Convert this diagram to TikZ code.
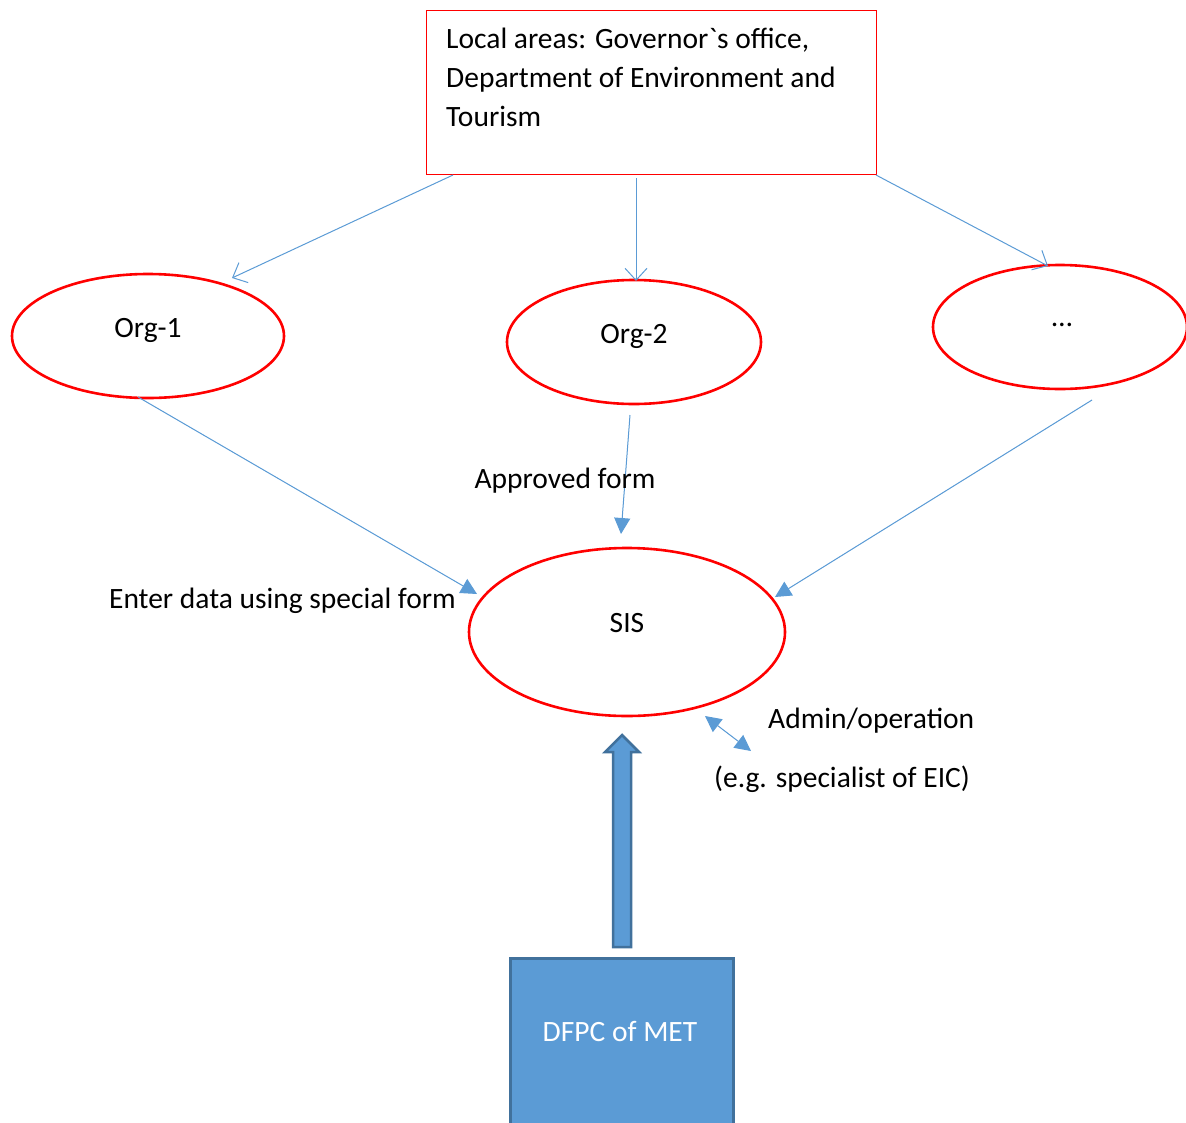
\documentclass[tikz,border=0pt]{standalone}
\usepackage{fontspec}
\setmainfont{Carlito}[Ligatures=TeXOff]
\usetikzlibrary{shapes.geometric,arrows.meta}
\definecolor{offblue}{HTML}{5B9BD5}
\definecolor{darkblue}{HTML}{41719C}
\definecolor{redline}{HTML}{FF0000}
\begin{document}
\begin{tikzpicture}[x=1pt,y=-1pt,
  every node/.style={font=\fontsize{29.5}{39}\selectfont},
  orgell/.style={draw=redline,line width=2.6pt,ellipse,inner sep=0pt},
  conn/.style={draw=offblue,line width=1pt},
  openarr/.style={conn,-{Straight Barb[length=12pt,width=22pt,line width=1pt]}},
  fillarr/.style={conn,-{Triangle[length=16pt,width=16pt]}},
  bothfill/.style={conn,{Triangle[length=16pt,width=16pt]}-{Triangle[length=16pt,width=16pt]}},
  lbl/.style={inner sep=0pt,anchor=base}
]
\path[use as bounding box] (0,0) rectangle (1186,1122);

% top box
\node[draw=redline,line width=1.3pt,minimum width=450pt,minimum height=164pt,anchor=north west,inner sep=0pt] (top) at (426,10) {};
\node[lbl,anchor=base west] (t1) at (446,48) {Local areas: Governor`s office,};
\node[lbl,anchor=base west] (t2) at (446,87) {Department of Environment and};
\node[lbl,anchor=base west] (t3) at (446,126) {Tourism};

% ellipses
\node[orgell,minimum width=272pt,minimum height=124pt] (org1) at (148,336) {};
\node[lbl] (org1t) at (148,337) {Org-1};
\node[orgell,minimum width=254pt,minimum height=124pt] (org2) at (634,342) {};
\node[lbl] (org2t) at (634,343) {Org-2};
\node[orgell,minimum width=254pt,minimum height=124pt] (org3) at (1060,327) {};
\node[lbl] (org3t) at (1062,326) {…};
\node[orgell,minimum width=316pt,minimum height=168pt] (sis) at (627,632) {};
\node[lbl] (sist) at (627,632) {SIS};

% connector coordinates
\coordinate (a1s) at (453,175);
\coordinate (a1e) at (232,278);
\coordinate (a2s) at (636,178);
\coordinate (a2e) at (636,281);
\coordinate (a3s) at (876,175);
\coordinate (a3e) at (1048,266);
\coordinate (b1s) at (138,397);
\coordinate (b1e) at (477,594);
\coordinate (b2s) at (630,415);
\coordinate (b2e) at (621,534);
\coordinate (b3s) at (1092,400);
\coordinate (b3e) at (775,597);
\coordinate (d1) at (705,716);
\coordinate (d2) at (751,751);

\draw[openarr] (a1s) -- (a1e);
\draw[openarr] (a2s) -- (a2e);
\draw[openarr] (a3s) -- (a3e);
\draw[fillarr,fill=offblue] (b1s) -- (b1e);
\draw[fillarr,fill=offblue] (b2s) -- (b2e);
\draw[fillarr,fill=offblue] (b3s) -- (b3e);
\draw[bothfill,fill=offblue] (d1) -- (d2);

% labels
\node[lbl] (appr) at (565,488) {Approved form};
\node[lbl,anchor=base east] (enter) at (456,608) {Enter data using special form};
\node[lbl,anchor=base west] (admin) at (768,728) {Admin/operation};
\node[lbl,anchor=base west] (eg) at (714,787) {(e.g. specialist of EIC)};

% DFPC box
\node[draw=darkblue,fill=offblue,line width=2.5pt,anchor=north west,minimum width=223pt,minimum height=175pt,inner sep=0pt] (dfpc) at (509,957) {};
\node[lbl,text=white] (dfpct) at (620,1041) {DFPC of MET};

% block arrow
\filldraw[draw=darkblue,fill=offblue,line width=2.5pt]
  (613,947) -- (613,752) -- (605,752) -- (622,735) -- (639,752) -- (631,752) -- (631,947) -- cycle;
\end{tikzpicture}
\end{document}
